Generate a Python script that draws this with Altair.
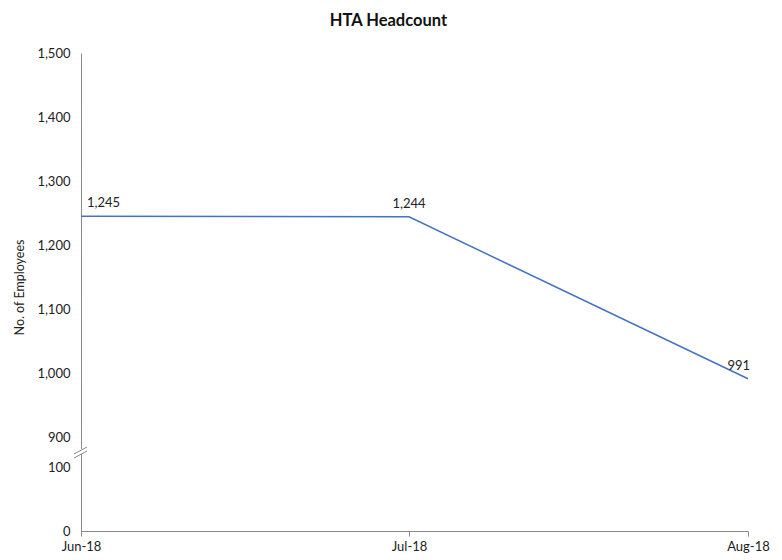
import altair as alt
import pandas as pd

dates = ["2018-06-01", "2018-07-01", "2018-08-01"]
headcount = [1245, 1244, 991]
label_text = ["1,245", "1,244", "991"]
y_ticks = [0, 100, 900, 1000, 1100, 1200, 1300, 1400, 1500]

df = pd.DataFrame({"date": dates, "value": headcount, "label": label_text})

FONT = "Lato"
AXIS_COLOR = "#8a8a8a"

def dt(m):
    return alt.DateTime(year=2018, month=m, date=1, utc=True)

x_scale = alt.Scale(type="utc", domain=[dt(6), dt(8)])
x_enc = alt.X("date:T", scale=x_scale,
              axis=alt.Axis(title=None, values=[dt(6), dt(7), dt(8)], format="%b-%y",
                            labelAngle=0, labelFont=FONT, labelFontSize=13,
                            labelColor="#222", domainColor=AXIS_COLOR, tickColor=AXIS_COLOR,
                            tickSize=5, labelPadding=4, grid=False, labelFlush=False))
y_scale = alt.Scale(domain=[0, 100, 900, 1500], range=[478, 414, 384, 0])
y_enc = alt.Y("value:Q", scale=y_scale,
              axis=alt.Axis(title="No. of Employees", values=y_ticks, format=",d",
                            labelFont=FONT, labelFontSize=13, labelColor="#222",
                            titleFont=FONT, titleFontSize=12.5, titleFontWeight="normal",
                            titleColor="#222", titleX=-62, titleY=234, titleBaseline="middle",
                            domainColor=AXIS_COLOR, ticks=False, labelPadding=11, grid=False))

line = alt.Chart(df).mark_line(color="#4472C4", strokeWidth=1.5).encode(x=x_enc, y=y_enc)

def lbl(idx, align, dx):
    return alt.Chart(df).transform_filter(alt.datum.label == label_text[idx]).mark_text(
        align=align, baseline="bottom", dy=-6, dx=dx, font=FONT, fontSize=13, color="#222"
    ).encode(x=alt.X("date:T", scale=x_scale),
             y=alt.Y("value:Q", scale=y_scale), text="label:N")

labels = lbl(0, "left", 6) + lbl(1, "center", 0) + lbl(2, "right", 2)

# axis break marks
gap = alt.Chart(pd.DataFrame({"k": [0]})).mark_rule(color="white", strokeWidth=3).encode(
    x=alt.value(0), y=alt.value(396), y2=alt.value(401))
brk1 = alt.Chart(pd.DataFrame({"k": [0]})).mark_rule(color=AXIS_COLOR, strokeWidth=1).encode(
    x=alt.value(-7), x2=alt.value(6), y=alt.value(405), y2=alt.value(398))
brk2 = alt.Chart(pd.DataFrame({"k": [0]})).mark_rule(color=AXIS_COLOR, strokeWidth=1).encode(
    x=alt.value(-7), x2=alt.value(6), y=alt.value(401), y2=alt.value(394))

chart = alt.layer(line, labels, gap, brk1, brk2).properties(
    width=667, height=478,
    title=alt.TitleParams("HTA Headcount", font=FONT, fontSize=16.5, fontWeight="bold",
                          color="#111", offset=18, dx=-26),
    autosize=alt.AutoSizeParams(type="none"),
    padding={"left": 73, "top": 45, "right": 25, "bottom": 26},
).configure_view(stroke=None)

chart.save("out.html", embed_options={"renderer": "svg", "actions": False})
